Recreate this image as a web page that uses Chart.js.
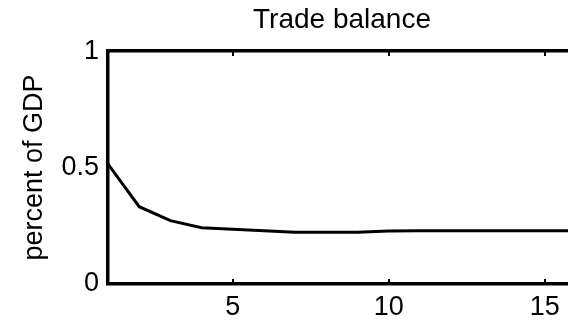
<!DOCTYPE html>
<html>
<head>
<meta charset="utf-8">
<script src="https://cdn.jsdelivr.net/npm/chart.js@4"></script>
<style>
  html, body { margin: 0; padding: 0; background: #fff; overflow: hidden; width: 568px; height: 321px; }
  #wrap { width: 580px; height: 321px; }
</style>
</head>
<body>
<div id="wrap"><canvas id="c" width="580" height="321"></canvas></div>
<script>
// periods after the shock
const periods = [1, 2, 3, 4, 5, 6, 7, 8, 9, 10, 11, 12, 13, 14, 15, 16];
// trade balance response, percent of GDP
const tradeBalance = [0.515, 0.332, 0.272, 0.242, 0.235, 0.229, 0.222, 0.222, 0.222, 0.228, 0.229, 0.229, 0.229, 0.229, 0.229, 0.229];
const xTicks = [5, 10, 15];
const yTicks = [0, 0.5, 1];

const FONT = 'Liberation Sans, Arial, Helvetica, sans-serif';
Chart.defaults.font.family = FONT;
Chart.defaults.color = '#000';

// little inward tick marks on top and bottom edges, like the matlab frame
const tickMarks = {
  id: 'tickMarks',
  afterDraw(chart) {
    const {ctx, chartArea} = chart;
    const xs = chart.scales.x;
    ctx.save();
    ctx.strokeStyle = '#000';
    ctx.lineWidth = 2;
    for (let v of xTicks) {
      let px = Math.round(xs.getPixelForValue(v));
      ctx.beginPath();
      ctx.moveTo(px, chartArea.bottom);
      ctx.lineTo(px, chartArea.bottom - 5);
      ctx.moveTo(px, chartArea.top);
      ctx.lineTo(px, chartArea.top + 5);
      ctx.stroke();
    }
    ctx.restore();
  }
};

new Chart(document.getElementById('c'), {
  type: 'line',
  data: {
    datasets: [{
      data: periods.map((p, i) => ({x: p, y: tradeBalance[i]})),
      borderColor: '#000',
      borderWidth: 3,
      pointRadius: 0,
      tension: 0,
      fill: false
    }]
  },
  options: {
    responsive: false,
    animation: false,
    layout: { padding: { left: 0, right: 4, top: 0, bottom: 0 } },
    plugins: {
      legend: { display: false },
      tooltip: { enabled: false },
      title: {
        display: true,
        text: 'Trade balance',
        color: '#000',
        fullSize: false,
        font: { size: 28, weight: 'normal', family: FONT },
        padding: { top: 3.5, bottom: 14 }
      }
    },
    scales: {
      x: {
        type: 'linear',
        min: 1,
        max: 16,
        afterBuildTicks: s => { s.ticks = xTicks.map(v => ({value: v})); },
        afterFit: s => { s.height = 37; },
        grid: { drawOnChartArea: false, drawTicks: false },
        border: { display: true, color: '#000', width: 3.5 },
        ticks: { font: { size: 27 }, color: '#000', padding: 7, maxRotation: 0, callback: v => String(v) }
      },
      x2: {
        type: 'linear',
        position: 'top',
        min: 1,
        max: 16,
        afterFit: s => { s.height = 0; },
        grid: { drawOnChartArea: false, drawTicks: false },
        border: { display: true, color: '#000', width: 3.5 },
        ticks: { display: false }
      },
      y: {
        min: 0,
        max: 1,
        afterBuildTicks: s => { s.ticks = yTicks.map(v => ({value: v})); },
        afterFit: s => { s.width = 108; },
        grid: { drawOnChartArea: false, drawTicks: false },
        border: { display: true, color: '#000', width: 3.5 },
        ticks: { font: { size: 27 }, color: '#000', padding: 9, callback: v => String(v) },
        title: {
          display: true,
          text: 'percent of GDP',
          color: '#000',
          font: { size: 27, family: FONT },
          padding: { top: 18, bottom: 0 }
        }
      }
    }
  },
  plugins: [tickMarks]
});
</script>
</body>
</html>
